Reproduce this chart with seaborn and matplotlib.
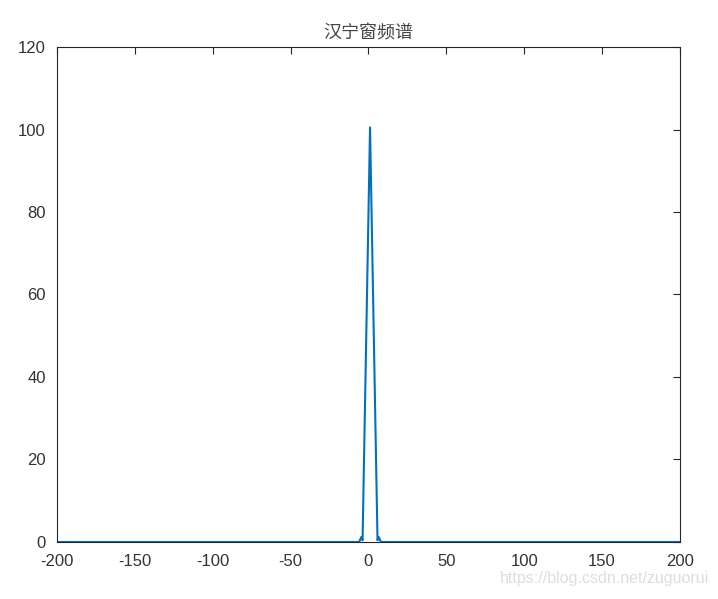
import numpy as np
import pandas as pd
import matplotlib
matplotlib.use("Agg")
import matplotlib.pyplot as plt
import seaborn as sns

# spectrum samples (frequency index, magnitude)
freq = [-200, -6, -4.6, -3.8, 1, 5.8, 6.6, 8, 200]
magnitude = [0, 0, 1.2, 0.4, 100.5, 0.4, 1.2, 0, 0]
xticks = [-200, -150, -100, -50, 0, 50, 100, 150, 200]
yticks = [0, 20, 40, 60, 80, 100, 120]

sns.set_style("white")
plt.rcParams['font.family'] = ['Liberation Sans', 'Noto Sans CJK SC', 'DejaVu Sans']
plt.rcParams['axes.unicode_minus'] = False

df = pd.DataFrame({'f': freq, 'mag': magnitude})

fig = plt.figure(figsize=(7.18, 5.99), dpi=100)
ax = fig.add_axes([0.0794, 0.0952, 0.8676, 0.8263])
sns.lineplot(data=df, x='f', y='mag', ax=ax, color='#0072BD', linewidth=1.5)

ax.set_xlim(-200, 200)
ax.set_ylim(0, 120)
ax.set_xticks(xticks)
ax.set_yticks(yticks)
ax.set_xlabel('')
ax.set_ylabel('')
ax.tick_params(direction='in', length=5, width=0.8, colors='#262626',
               labelsize=12, top=True, right=True)
ax.tick_params(axis='x', pad=9)
ax.tick_params(axis='y', pad=8)
for lab in ax.get_xticklabels() + ax.get_yticklabels():
    lab.set_color('#333333')
for s in ax.spines.values():
    s.set_color('#262626')
    s.set_linewidth(0.8)
ax.set_title('汉宁窗频谱', fontsize=13, color='#444444', pad=6,
             family=['Noto Sans CJK SC', 'DejaVu Sans'])

fig.text(0.988, 0.022, 'https://blog.csdn.net/zuguorui', ha='right', va='bottom',
         fontsize=11.5, color='#dddddd')

fig.savefig('out.png', dpi=100)
